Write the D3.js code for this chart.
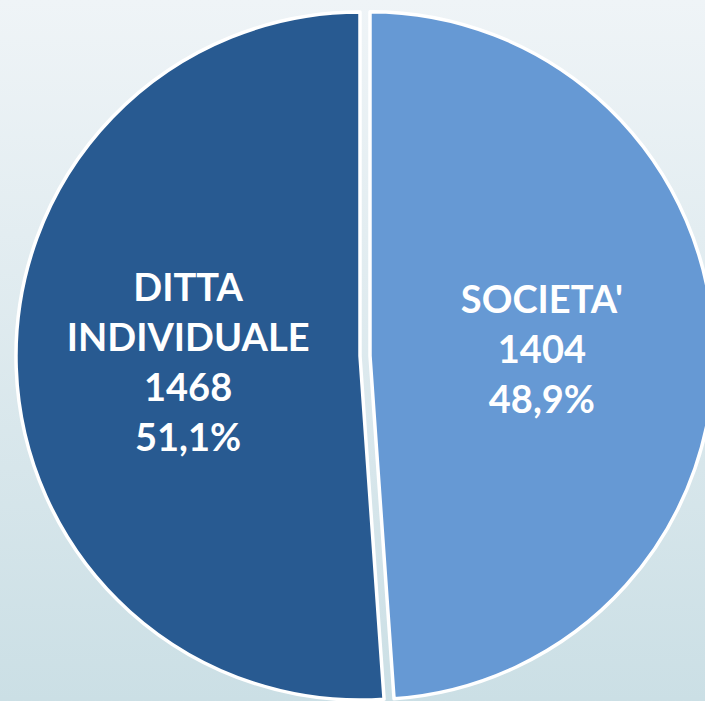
<!DOCTYPE html>
<html>
<head>
<meta charset="utf-8">
<script src="https://cdn.jsdelivr.net/npm/d3@7"></script>
<style>
  html, body { margin: 0; padding: 0; overflow: hidden; }
  svg { display: block; }
</style>
</head>
<body>
<div id="app"></div>
<script>

// Data
const categories = ["SOCIETA'", 'DITTA INDIVIDUALE']
const labelLines = [["SOCIETA'"], ['DITTA', 'INDIVIDUALE']]
const values = [1404, 1468]
const colors = ['#6699d4', '#285a91']
const exploded = [true, false]

//
// Constants
//
const width = 705
const height = 701
const radius = 344
const cx = 360
const cy = 356
const explode = 10
const lineH = 50

const it = d3.formatLocale({ decimal: ',', thousands: '.', grouping: [3], currency: ['€', ''] })
const fmtPct = it.format('.1%')

const svg = d3.select('#app').append('svg')
  .attr('width', width)
  .attr('height', height)

// background gradient
const grad = svg.append('defs').append('linearGradient')
  .attr('id', 'bg')
  .attr('x1', 0).attr('y1', 0).attr('x2', 0).attr('y2', 1)
grad.append('stop').attr('offset', '0%').attr('stop-color', '#eff4f7')
grad.append('stop').attr('offset', '100%').attr('stop-color', '#cbdfe5')

svg.append('rect')
  .attr('width', width)
  .attr('height', height)
  .attr('fill', 'url(#bg)')

const total = d3.sum(values)
const data = categories.map((c, i) => ({ c, i, value: values[i] }))

const pie = d3.pie().sort(null).value(d => d.value)
const arc = d3.arc().innerRadius(0).outerRadius(radius)
const labelArc = d3.arc().innerRadius(radius * 0.5).outerRadius(radius * 0.5)

const g = svg.append('g').attr('transform', `translate(${cx},${cy})`)

const slices = g.selectAll('g.slice').data(pie(data))
  .join('g')
  .attr('class', 'slice')
  .attr('transform', d => {
    if (!exploded[d.data.i]) return null
    const a = (d.startAngle + d.endAngle) / 2
    return `translate(${Math.sin(a) * explode},${-Math.cos(a) * explode})`
  })

slices.append('path')
  .attr('d', arc)
  .attr('fill', d => colors[d.data.i])
  .attr('stroke', '#fff')
  .attr('stroke-width', 3.5)
  .attr('stroke-linejoin', 'round')

slices.append('text')
  .attr('transform', d => `translate(${labelArc.centroid(d)})`)
  .attr('text-anchor', 'middle')
  .attr('fill', '#fff')
  .attr('font-family', 'Lato, "Open Sans", sans-serif')
  .attr('font-weight', 700)
  .attr('font-size', 38)
  .each(function(d) {
    const lines = [...labelLines[d.data.i], String(d.value), fmtPct(d.value / total)]
    const y0 = -(lines.length - 1) * lineH / 2
    d3.select(this).selectAll('tspan').data(lines)
      .join('tspan')
      .attr('x', 0)
      .attr('y', (l, k) => y0 + k * lineH)
      .attr('dy', '0.36em')
      .text(l => l)
  })

</script>
</body>
</html>
